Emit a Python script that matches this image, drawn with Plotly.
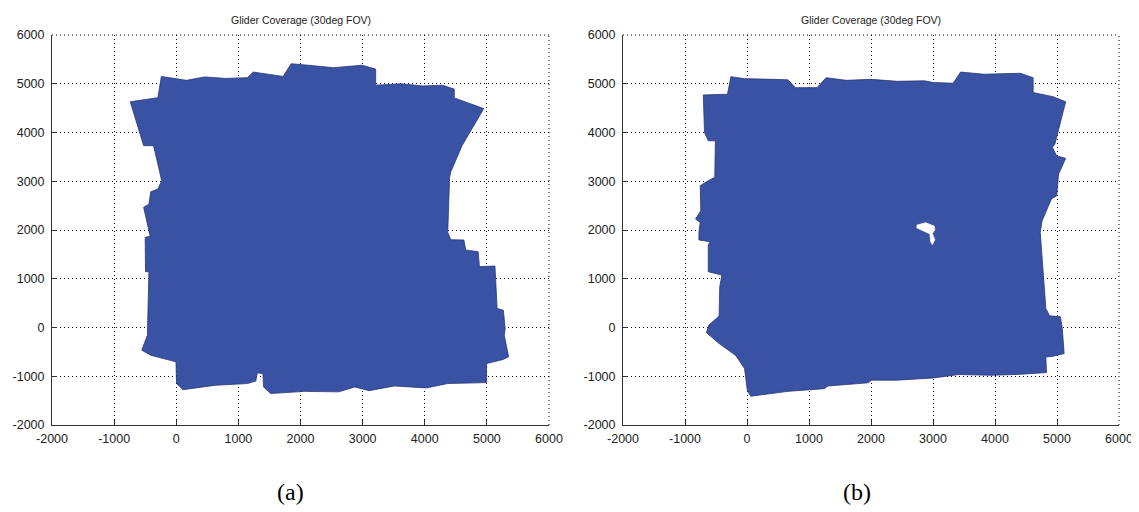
import plotly.graph_objects as go

# ---- data (metres) ----
a_x = [-740, -295, -240, 165, 455, 800, 1145, 1240, 1720, 1850, 2125, 2530, 2990, 3210, 3210, 3620, 3970, 4285,
       4475, 4475, 4950, 4600, 4420, 4400, 4370, 4420, 4630, 4660, 4860, 4880, 5130, 5165, 5265, 5295, 5280, 5350,
       5265, 4995, 4995, 4370, 4025, 3510, 3105, 2875, 2615, 2070, 1520, 1405, 1395, 1305, 1280, 1145, 630, 110,
       5, -5, -410, -555, -465, -450, -440, -495, -500, -420, -455, -525, -440, -410, -295, -235, -265, -365, -525, -740]
a_y = [4630, 4715, 5150, 5070, 5140, 5110, 5125, 5240, 5150, 5410, 5380, 5330, 5380, 5300, 4970, 5000, 4955, 4970,
       4890, 4710, 4490, 3730, 3195, 3080, 1950, 1800, 1795, 1590, 1555, 1250, 1260, 390, 355, -20, -160, -600,
       -655, -740, -1130, -1150, -1240, -1200, -1295, -1220, -1320, -1310, -1355, -1220, -945, -930, -1100, -1150, -1185, -1275,
       -1150, -705, -570, -465, -160, 390, 1145, 1145, 1850, 1870, 2055, 2465, 2530, 2785, 2840, 3010, 3180, 3730, 3730, 4630]

b_x = [-705, -315, -260, -40, 430, 660, 780, 1130, 1275, 1600, 2010, 2420, 2860, 3005, 3325, 3445, 3825, 4410,
       4615, 4615, 4935, 5140, 4965, 4925, 4995, 5140, 5025, 4995, 4910, 4820, 4760, 4730, 4760, 4820, 4880, 5055,
       5085, 5115, 4935, 4820, 4830, 4410, 3940, 3415, 3005, 2420, 2010, 1950, 1305, 1245, 660, 60, 5, -40,
       -185, -450, -655, -615, -450, -440, -405, -625, -625, -595, -775, -775, -755, -830, -745, -755, -625, -520,
       -510, -625, -685, -705]
b_y = [4770, 4785, 5145, 5105, 5090, 5080, 4920, 4920, 5125, 5070, 5090, 5050, 5060, 5025, 5010, 5240, 5195, 5215,
       5125, 4820, 4735, 4630, 3760, 3695, 3520, 3470, 3145, 2705, 2635, 2360, 2190, 1950, 1350, 390, 240, 220,
       -20, -535, -590, -605, -925, -960, -980, -965, -1035, -1080, -1080, -1135, -1200, -1255, -1310, -1410, -1290, -840,
       -570, -330, -105, 50, 235, 835, 1075, 1145, 1690, 1760, 1795, 1950, 2155, 2225, 2395, 2910, 3010, 3080,
       3830, 3830, 4000, 4770]

hole_x = [2740, 2880, 3020, 3030, 2990, 3030, 2990, 2960, 2950, 2840, 2740, 2740]
hole_y = [2100, 2150, 2080, 2000, 1930, 1800, 1700, 1760, 1920, 1990, 2040, 2100]

axis_range = [-2000, 6000]
tick_vals = [-2000, -1000, 0, 1000, 2000, 3000, 4000, 5000, 6000]
tick_text = ["-2000", "-1000", "0", "1000", "2000", "3000", "4000", "5000", "6000"]
title_text = "Glider Coverage (30deg FOV)"
captions = ["(a)", "(b)"]

FILL = "rgb(57,82,163)"
EDGE = "rgb(40,55,120)"
DOT = "1px,3px"

# page has an 8px body margin; figure size/positions compensate for it
OFF = 8
W, H = 1139 - OFF, 512 - OFF

def px_x(p):
    return (p - OFF) / W

def px_y(p):
    return 1 - (p - OFF) / H

fig = go.Figure()
fig.add_trace(go.Scatter(x=a_x, y=a_y, fill="toself", fillcolor=FILL, mode="lines",
                         line=dict(color=EDGE, width=0.8), xaxis="x", yaxis="y", hoverinfo="skip"))
fig.add_trace(go.Scatter(x=b_x, y=b_y, fill="toself", fillcolor=FILL, mode="lines",
                         line=dict(color=EDGE, width=0.8), xaxis="x2", yaxis="y2", hoverinfo="skip"))
fig.add_trace(go.Scatter(x=hole_x, y=hole_y, fill="toself", fillcolor="white", mode="lines",
                         line=dict(color="rgb(235,235,220)", width=0.8), xaxis="x2", yaxis="y2", hoverinfo="skip"))

def ax(domain, anchor):
    return dict(domain=domain, anchor=anchor, range=axis_range, tickvals=tick_vals, ticktext=tick_text,
                showline=True, linecolor="#333", linewidth=1, ticks="inside", ticklen=5,
                tickcolor="#333", showgrid=True, gridcolor="black", griddash=DOT, gridwidth=1,
                zeroline=False, automargin=False,
                tickfont=dict(family="Liberation Sans, Arial", size=12.5, color="#222"),
                fixedrange=True)

ydom = [px_y(425), px_y(35)]
xdom_a = [px_x(52), px_x(549)]
xdom_b = [px_x(623), px_x(1119)]

fig.update_layout(
    width=W, height=H, margin=dict(l=0, r=0, t=0, b=0),
    paper_bgcolor="white", plot_bgcolor="white", showlegend=False,
    xaxis=ax(xdom_a, "y"), yaxis=ax(ydom, "x"),
    xaxis2=ax(xdom_b, "y2"), yaxis2=ax(ydom, "x2"),
)
fig.update_xaxes(ticklabelstandoff=2)
fig.update_yaxes(ticklabelstandoff=4)

# dotted grid lines along the top and right edges (at 6000)
for xr, yr in (("x", "y"), ("x2", "y2")):
    fig.add_shape(type="line", xref=f"{xr} domain", yref=f"{yr} domain", x0=0, x1=1, y0=1, y1=1,
                  line=dict(color="black", width=1, dash=DOT), layer="above")
    fig.add_shape(type="line", xref=f"{xr} domain", yref=f"{yr} domain", x0=1, x1=1, y0=0, y1=1,
                  line=dict(color="black", width=1, dash=DOT), layer="above")

for dom in (xdom_a, xdom_b):
    fig.add_annotation(text=title_text, x=(dom[0] + dom[1]) / 2, y=px_y(20), xref="paper", yref="paper",
                       showarrow=False, font=dict(family="Liberation Sans, Arial", size=10.5, color="#222"),
                       xanchor="center", yanchor="middle")
for cx, cap in zip((px_x(290), px_x(857)), captions):
    fig.add_annotation(text=cap, x=cx, y=px_y(492), xref="paper", yref="paper",
                       showarrow=False, font=dict(family="Liberation Serif, Times New Roman", size=24, color="black"),
                       xanchor="center", yanchor="middle")

fig.write_html("out.html")
